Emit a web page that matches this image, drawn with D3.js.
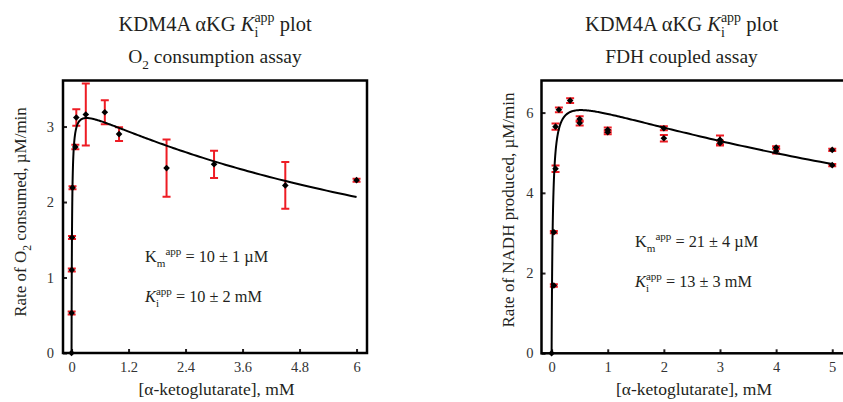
<!DOCTYPE html>
<html>
<head>
<meta charset="utf-8">
<script src="https://cdn.jsdelivr.net/npm/d3@7/dist/d3.min.js"></script>
<style>
  html, body { margin: 0; padding: 0; background: #fff; }
  svg { display: block; }
  text { white-space: pre; }
</style>
</head>
<body>
<svg id="chart" width="843" height="402"></svg>
<script>
// ---- O2 consumption assay ----
const o2Conc = [0, 0.002, 0.005, 0.01, 0.02, 0.08, 0.1, 0.3, 0.7, 1, 2, 3, 4.5, 6];
const o2Rate = [0, 0.53, 1.10, 1.53, 2.19, 2.73, 3.12, 3.16, 3.19, 2.90, 2.45, 2.50, 2.22, 2.29];
const o2Err  = [0, 0.02, 0.02, 0.02, 0.02, 0.03, 0.11, 0.41, 0.16, 0.09, 0.38, 0.18, 0.31, 0.02];
const o2XTicks = [0, 1.2, 2.4, 3.6, 4.8, 6];
const o2YTicks = [0, 1, 2, 3];
// substrate-inhibition fit: Vmax (µM/min), Km (mM), Ki (mM)
const o2Fit = [3.31, 0.010, 10];

// ---- FDH coupled assay ----
const fdhConc = [0, 0.04, 0.04, 0.07, 0.07, 0.13, 0.33, 0.5, 0.5, 1, 1, 2, 2, 3, 3, 4, 4, 5, 5];
const fdhRate = [0, 1.69, 3.02, 4.60, 5.65, 6.07, 6.30, 5.84, 5.74, 5.57, 5.51, 5.61, 5.36, 5.32, 5.24, 5.13, 5.04, 5.07, 4.69];
const fdhErr  = [0, 0.03, 0.03, 0.08, 0.08, 0.06, 0.06, 0.07, 0.06, 0.06, 0.05, 0.05, 0.08, 0.11, 0.06, 0.03, 0.06, 0.03, 0.03];
const fdhXTicks = [0, 1, 2, 3, 4, 5];
const fdhYTicks = [0, 2, 4, 6];
const fdhFit = [6.55, 0.021, 13];

const FONT = "'Liberation Serif', 'Times New Roman', serif";
const INK = "#231f20";
const RED = "#ee1c24";

const svg = d3.select("#chart");

// Lay out a run of text pieces (sub/superscripts, stacked indices) inside one <text>.
function richText(parent, x, y, runs, size, anchor) {
  const t = parent.append("text")
    .attr("font-family", FONT).attr("font-size", size).attr("fill", INK);
  let cursor = 0, prevStart = 0;
  const placed = runs.map(r => {
    const s = t.append("tspan").text(r.text)
      .attr("font-size", size * (r.scale || 1))
      .attr("font-style", r.italic ? "italic" : "normal");
    const w = s.node().getComputedTextLength();
    const start = r.stack ? prevStart : cursor;
    prevStart = start;
    cursor = Math.max(cursor, start + w);
    return { s, start, shift: (r.shift || 0) * size };
  });
  const off = anchor === "middle" ? cursor / 2 : anchor === "end" ? cursor : 0;
  placed.forEach(p => p.s.attr("x", x + p.start - off).attr("y", y + p.shift));
  return t;
}

const sub = (text, extra) => Object.assign({ text, scale: 0.68, shift: 0.32 }, extra || {});
const sup = (text, extra) => Object.assign({ text, scale: 0.68, shift: -0.4 }, extra || {});

function panel(cfg) {
  const g = svg.append("g");
  const x = d3.scaleLinear().domain(cfg.xDomain).range([cfg.left, cfg.right]);
  const y = d3.scaleLinear().domain(cfg.yDomain).range([cfg.bottom, cfg.top]);

  // axes with inward ticks
  const xa = g.append("g").attr("transform", `translate(0,${cfg.bottom})`)
    .call(d3.axisBottom(x).tickValues(cfg.xTicks).tickSize(-4).tickPadding(8.5)
      .tickFormat(d => String(d)));
  const ya = g.append("g").attr("transform", `translate(${cfg.left},0)`)
    .call(d3.axisLeft(y).tickValues(cfg.yTicks).tickSize(-4).tickPadding(cfg.yPad)
      .tickFormat(d => String(d)));
  [xa, ya].forEach(a => {
    a.select(".domain").remove();
    a.selectAll(".tick line").attr("stroke", INK).attr("stroke-width", 2);
    a.selectAll(".tick text").attr("font-family", FONT).attr("font-size", 14.5).attr("fill", "#333");
  });

  // fitted curve: v = Vmax*S / (Km + S*(1 + S/Ki))
  const [vmax, km, ki] = cfg.fit;
  const xs = [0].concat(d3.range(-4, Math.log10(cfg.xMax) + 1e-9, 0.01).map(e => Math.pow(10, e)));
  xs.push(cfg.xMax);
  const line = d3.line().x(d => x(d)).y(d => y(vmax * d / (km + d * (1 + d / ki))));

  // error bars
  const eb = g.append("g").attr("stroke", RED).attr("stroke-width", 2).attr("fill", "none");
  cfg.conc.forEach((c, i) => {
    const e = cfg.err[i];
    if (!e) return;
    const cx = x(c), y1 = y(cfg.rate[i] + e), y0 = y(cfg.rate[i] - e);
    eb.append("path").attr("d", `M${cx},${y1}V${y0}M${cx - 4},${y1}H${cx + 4}M${cx - 4},${y0}H${cx + 4}`);
  });

  g.append("path").datum(xs).attr("d", line)
    .attr("fill", "none").attr("stroke", "#000").attr("stroke-width", 2);

  // data markers
  const diamond = d3.symbol().type(d3.symbolSquare).size(22);
  g.append("g").selectAll("path").data(cfg.conc).join("path")
    .attr("d", diamond)
    .attr("transform", (c, i) => `translate(${x(c)},${y(cfg.rate[i])}) rotate(45)`)
    .attr("fill", "#000");

  // frame
  g.append("rect").attr("x", cfg.left).attr("y", cfg.top)
    .attr("width", cfg.right - cfg.left).attr("height", cfg.bottom - cfg.top)
    .attr("fill", "none").attr("stroke", "#000").attr("stroke-width", 2.5);

  // titles
  richText(g, cfg.titleX, 30.5, [
    { text: "KDM4A \u03B1KG " }, { text: "K", italic: true },
    sup("app"), sub("i", { stack: true }), { text: " plot" }
  ], 20.5, "middle");
  richText(g, cfg.titleX, 63, cfg.subtitle, 19.5, "middle");

  // axis labels
  richText(g, cfg.xLabelX, 395, [{ text: "[\u03B1-ketoglutarate], mM" }], 17.5, "middle");
  const yl = g.append("g").attr("transform", `translate(${cfg.yLabelX},${cfg.yLabelY}) rotate(-90)`);
  richText(yl, 0, 0, cfg.yLabel, 17, "middle");

  // fit constants
  richText(g, cfg.noteX, cfg.noteY1, [
    { text: "K" }, sub("m"), sup("app"), { text: " = " + cfg.kmText }
  ], 16.3, "start");
  richText(g, cfg.noteX, cfg.noteY2, [
    { text: "K", italic: true }, sup("app"), sub("i", { stack: true }), { text: " = " + cfg.kiText }
  ], 16.3, "start");
}

panel({
  left: 63, right: 367, top: 80.5, bottom: 353,
  xDomain: [-0.18, 6.22], yDomain: [0, 3.61], xMax: 6, yPad: 9,
  xTicks: o2XTicks, yTicks: o2YTicks, fit: o2Fit,
  conc: o2Conc, rate: o2Rate, err: o2Err,
  titleX: 215,
  subtitle: [{ text: "O" }, sub("2"), { text: " consumption assay" }],
  xLabelX: 216.5, yLabelX: 26, yLabelY: 212,
  yLabel: [{ text: "Rate of O" }, sub("2"), { text: " consumed, \u00B5M/min" }],
  noteX: 145, noteY1: 262, noteY2: 302,
  kmText: "10 \u00B1 1 \u00B5M", kiText: "10 \u00B1 2 mM"
});

panel({
  left: 541.5, right: 846, top: 80.5, bottom: 353.3,
  xDomain: [-0.18, 5.245], yDomain: [0, 6.8], xMax: 5, yPad: 8,
  xTicks: fdhXTicks, yTicks: fdhYTicks, fit: fdhFit,
  conc: fdhConc, rate: fdhRate, err: fdhErr,
  titleX: 681.5,
  subtitle: [{ text: "FDH coupled assay" }],
  xLabelX: 694, yLabelX: 514, yLabelY: 210,
  yLabel: [{ text: "Rate of NADH produced, \u00B5M/min" }],
  noteX: 635, noteY1: 246.5, noteY2: 287,
  kmText: "21 \u00B1 4 \u00B5M", kiText: "13 \u00B1 3 mM"
});
</script>
</body>
</html>
